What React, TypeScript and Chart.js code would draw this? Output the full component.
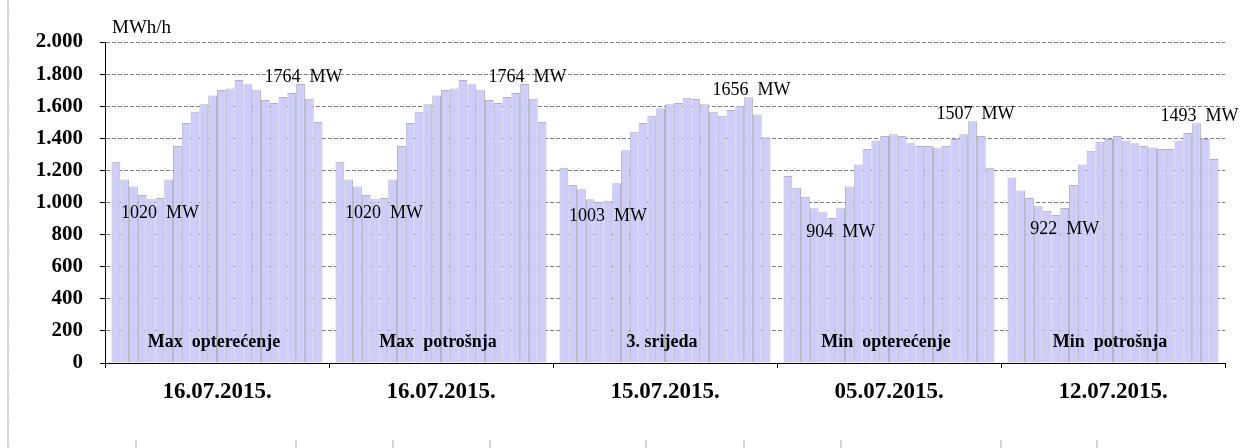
import React, { useEffect, useRef } from "react";
import { Chart, registerables } from "chart.js";

Chart.register(...registerables);

// ---- data ----
const dayLabels = ["16.07.2015.", "16.07.2015.", "15.07.2015.", "05.07.2015.", "12.07.2015."];
const caseLabels = ["Max  opterećenje", "Max  potrošnja", "3. srijeda", "Min  opterećenje", "Min  potrošnja"];

const maxOpterecenje = [1254, 1144, 1099, 1047, 1020, 1028, 1144, 1352, 1495, 1566, 1612, 1666, 1701, 1711, 1764, 1736, 1703, 1639, 1620, 1657, 1682, 1738, 1647, 1502];
const maxPotrosnja = [1254, 1144, 1099, 1047, 1020, 1028, 1144, 1352, 1495, 1566, 1612, 1666, 1701, 1711, 1764, 1736, 1703, 1639, 1620, 1657, 1682, 1738, 1647, 1502];
const trecaSrijeda = [1217, 1109, 1082, 1020, 1003, 1011, 1120, 1325, 1441, 1495, 1541, 1587, 1612, 1620, 1652, 1645, 1612, 1566, 1541, 1576, 1603, 1656, 1549, 1406];
const minOpterecenje = [1165, 1092, 1036, 964, 939, 904, 964, 1099, 1236, 1333, 1387, 1414, 1425, 1414, 1369, 1352, 1352, 1342, 1352, 1396, 1425, 1507, 1414, 1217];
const minPotrosnja = [1155, 1074, 1028, 976, 949, 922, 966, 1109, 1236, 1323, 1379, 1396, 1414, 1387, 1369, 1352, 1342, 1333, 1333, 1387, 1433, 1493, 1396, 1271];

const hours = Array.from({ length: 24 }, (_, h) => h + 1);

const minLabels = ["1020  MW", "1020  MW", "1003  MW", "904  MW", "922  MW"];
const maxLabels = ["1764  MW", "1764  MW", "1656  MW", "1507  MW", "1493  MW"];
const minHourIndex = [4, 4, 4, 5, 5];
const maxHourIndex = [21, 21, 21, 21, 21];

const yTicks = [0, 200, 400, 600, 800, 1000, 1200, 1400, 1600, 1800, 2000];
const unitLabel = "MWh/h";

// decorative spreadsheet frame marks (x positions on bottom edge)
const frameBottomMarks = [135, 295, 392, 489, 645, 743, 840, 1000, 1096];

const FONT = "'Liberation Serif', 'Times New Roman', serif";

function formatThousands(v: number): string {
  if (v >= 1000) {
    return Math.floor(v / 1000) + "." + String(v % 1000).padStart(3, "0");
  }
  return String(v);
}

export default function App() {
  const canvasRef = useRef<HTMLCanvasElement | null>(null);

  useEffect(() => {
    document.body.style.margin = "0";
    const canvas = canvasRef.current;
    if (!canvas) return;

    const days = [maxOpterecenje, maxPotrosnja, trecaSrijeda, minOpterecenje, minPotrosnja];

    const datasets = hours.map((_, h) => ({
      label: "h" + (h + 1),
      data: days.map((d) => d[h]),
      backgroundColor: "#CCCCFF",
      borderColor: "#B4B4B4",
      borderWidth: 1,
      barPercentage: 1.0,
      categoryPercentage: 0.942,
    }));

    const framePlugin = {
      id: "frame",
      beforeDraw(chart: any) {
        const ctx = chart.ctx;
        ctx.save();
        ctx.fillStyle = "#D4D4D4";
        ctx.fillRect(7, 0, 2, chart.height);
        for (let y = 13; y < chart.height; y += 24.1) {
          ctx.fillRect(9, Math.round(y), 1, 1);
        }
        frameBottomMarks.forEach((x) => ctx.fillRect(x, 440, 2, 8));
        ctx.restore();
      },
    };

    const annotPlugin = {
      id: "annot",
      afterDatasetsDraw(chart: any) {
        const ctx = chart.ctx;
        const xs = chart.scales.x;
        const ys = chart.scales.y;
        ctx.save();
        ctx.fillStyle = "#000";
        ctx.textBaseline = "alphabetic";
        ctx.font = `18px ${FONT}`;
        ctx.textAlign = "center";
        for (let i = 0; i < dayLabels.length; i++) {
          const minEl = chart.getDatasetMeta(minHourIndex[i]).data[i];
          ctx.fillText(minLabels[i], minEl.x + 9, minEl.y + 19);
          const maxEl = chart.getDatasetMeta(maxHourIndex[i]).data[i];
          ctx.fillText(maxLabels[i], maxEl.x + 3, maxEl.y - 2);
        }
        ctx.font = `bold 18px ${FONT}`;
        for (let i = 0; i < caseLabels.length; i++) {
          ctx.fillText(caseLabels[i], xs.getPixelForValue(i) - 3, ys.getPixelForValue(100));
        }
        ctx.font = `19px ${FONT}`;
        ctx.textAlign = "left";
        ctx.fillText(unitLabel, chart.chartArea.left + 7, chart.chartArea.top - 9);
        ctx.restore();
      },
    };

    const chart = new Chart(canvas, {
      type: "bar",
      data: { labels: dayLabels, datasets },
      options: {
        animation: false,
        responsive: false,
        maintainAspectRatio: false,
        layout: { padding: { left: 0, top: 42, right: 16, bottom: 0 } },
        plugins: { legend: { display: false }, tooltip: { enabled: false } },
        scales: {
          x: {
            type: "category",
            offset: true,
            z: 1,
            grid: {
              offset: true,
              drawOnChartArea: false,
              drawTicks: true,
              tickLength: 5,
              tickColor: "#000",
              tickWidth: 1,
            },
            border: { display: true, color: "#000", width: 1 },
            ticks: {
              color: "#000",
              font: { family: FONT, size: 23, weight: "bold" },
              padding: 10,
              maxRotation: 0,
              autoSkip: false,
            },
            afterFit: (scale: any) => {
              scale.height = 85;
            },
          },
          y: {
            min: 0,
            max: 2000,
            afterBuildTicks: (scale: any) => {
              scale.ticks = yTicks.map((v) => ({ value: v }));
            },
            grid: {
              color: (c: any) => (c.tick && c.tick.value === 0 ? "rgba(0,0,0,0)" : "#808080"),
              lineWidth: 1,
              drawTicks: true,
              tickLength: 5,
              tickColor: "#000",
              tickWidth: 1,
            },
            border: { display: true, color: "#000", width: 1, dash: [4, 2] },
            ticks: {
              color: "#000",
              font: { family: FONT, size: 21, weight: "bold" },
              padding: 17,
              callback: (v: any) => formatThousands(Number(v)),
            },
            afterFit: (scale: any) => {
              scale.width = 105;
            },
          },
        },
      },
      plugins: [framePlugin, annotPlugin],
    });

    return () => {
      chart.destroy();
    };
  }, []);

  return (
    <div style={{ width: 1241, height: 448, background: "#fff" }}>
      <canvas ref={canvasRef} width={1241} height={448} style={{ display: "block" }} />
    </div>
  );
}
